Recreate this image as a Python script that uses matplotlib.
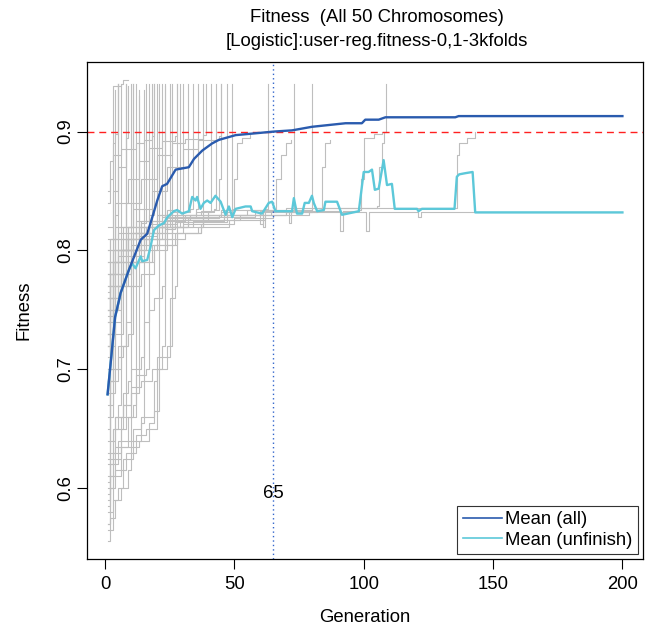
import matplotlib
matplotlib.use("Agg")
import matplotlib.pyplot as plt
from matplotlib.lines import Line2D

plt.rcParams['font.family'] = ['Liberation Sans', 'DejaVu Sans']

# (generation, fitness) traces of single chromosomes
# (value holds from that generation on, until the next point)
low_start = [
    [(1, 0.556), (2, 0.575), (4, 0.59), (6, 0.60), (9, 0.615), (10, 0.94)],
    [(1, 0.565), (3, 0.59), (5, 0.60), (7, 0.625), (11, 0.64), (14, 0.655), (15, 0.935)],
    [(1, 0.57), (2, 0.60), (4, 0.615), (8, 0.63), (12, 0.645), (16, 0.65), (20, 0.665), (21, 0.94)],
    [(1, 0.58), (3, 0.61), (6, 0.635), (13, 0.64), (17, 0.655), (19, 0.69), (20, 0.71), (22, 0.72), (23, 0.938)],
    [(1, 0.585), (2, 0.62), (5, 0.64), (9, 0.66), (12, 0.68), (13, 0.93)],
    [(1, 0.59), (2, 0.63), (4, 0.66), (7, 0.67), (8, 0.94)],
    [(1, 0.60), (3, 0.625), (6, 0.66), (8, 0.67), (10, 0.685), (14, 0.69), (18, 0.70), (22, 0.71), (25, 0.72), (26, 0.94)],
    [(1, 0.605), (2, 0.64), (3, 0.65), (5, 0.67), (6, 0.94)],
    [(1, 0.61), (4, 0.635), (9, 0.64), (11, 0.65), (14, 0.66), (19, 0.665), (20, 0.70), (24, 0.72), (25, 0.76), (27, 0.77), (28, 0.94)],
    [(1, 0.62), (2, 0.66), (3, 0.68), (4, 0.935)],
    [(1, 0.625), (3, 0.65), (7, 0.67), (10, 0.68), (12, 0.695), (16, 0.70), (17, 0.94)],
    [(1, 0.64), (2, 0.69), (3, 0.70), (6, 0.72), (9, 0.73), (11, 0.94)],
    [(1, 0.65), (2, 0.70), (5, 0.72), (8, 0.74), (10, 0.77), (14, 0.78), (19, 0.80), (20, 0.94)],
    [(1, 0.63), (2, 0.67), (3, 0.69), (5, 0.71), (7, 0.72), (8, 0.94)],
    [(1, 0.57), (2, 0.61), (3, 0.63), (6, 0.65), (8, 0.66), (11, 0.67), (12, 0.94)],
    [(1, 0.595), (2, 0.62), (3, 0.64), (4, 0.66), (7, 0.68), (9, 0.69), (10, 0.70), (14, 0.71), (15, 0.74), (17, 0.75), (19, 0.76), (22, 0.77), (23, 0.94)],
]

mid_start = [
    [(1, 0.66), (2, 0.72), (4, 0.75), (5, 0.94)],
    [(1, 0.67), (2, 0.74), (3, 0.76), (6, 0.78), (9, 0.79), (12, 0.80), (13, 0.935)],
    [(1, 0.69), (3, 0.75), (5, 0.77), (8, 0.79), (13, 0.80), (16, 0.81), (18, 0.94)],
    [(1, 0.70), (2, 0.76), (4, 0.78), (7, 0.80), (11, 0.81), (14, 0.82), (20, 0.825), (22, 0.94)],
    [(1, 0.71), (2, 0.77), (3, 0.79), (5, 0.80), (9, 0.81), (14, 0.815), (19, 0.82), (24, 0.825), (25, 0.94)],
    [(1, 0.72), (2, 0.75), (4, 0.76), (6, 0.78), (10, 0.80), (14, 0.81), (18, 0.815), (26, 0.82), (29, 0.825), (30, 0.94)],
    [(1, 0.73), (2, 0.78), (4, 0.80), (8, 0.81), (12, 0.82), (18, 0.825), (23, 0.83), (28, 0.832), (33, 0.835), (34, 0.94)],
    [(1, 0.74), (2, 0.78), (3, 0.80), (7, 0.81), (9, 0.82), (11, 0.94)],
    [(1, 0.745), (3, 0.79), (6, 0.80), (10, 0.815), (15, 0.82), (22, 0.825), (27, 0.83), (35, 0.835), (36, 0.94)],
    [(1, 0.75), (2, 0.78), (5, 0.80), (9, 0.815), (13, 0.82), (17, 0.83), (19, 0.94)],
    [(1, 0.76), (3, 0.79), (6, 0.81), (12, 0.815), (19, 0.82), (25, 0.825), (31, 0.83), (40, 0.832), (41, 0.94)],
    [(1, 0.765), (2, 0.80), (4, 0.81), (8, 0.82), (14, 0.823), (16, 0.94)],
    [(1, 0.77), (2, 0.79), (6, 0.80), (11, 0.815), (17, 0.82), (22, 0.828), (28, 0.83), (37, 0.833), (42, 0.835), (43, 0.94)],
    [(1, 0.78), (2, 0.81), (5, 0.815), (9, 0.82), (14, 0.825), (20, 0.83), (24, 0.834), (29, 0.94)],
    [(1, 0.79), (3, 0.81), (7, 0.82), (12, 0.825), (21, 0.83), (26, 0.832), (32, 0.94)],
    [(1, 0.80), (2, 0.81), (4, 0.83), (5, 0.94)],
    [(1, 0.76), (2, 0.78), (3, 0.938), (6, 0.94), (7, 0.943), (9, 0.943)],
    [(1, 0.68), (2, 0.73), (3, 0.75), (5, 0.77), (6, 0.78), (10, 0.79), (15, 0.80), (24, 0.81), (31, 0.815), (37, 0.82), (38, 0.94)],
    [(1, 0.72), (2, 0.76), (5, 0.79), (9, 0.80), (16, 0.81), (23, 0.818), (27, 0.824), (47, 0.94)],
    [(1, 0.73), (3, 0.77), (7, 0.79), (14, 0.805), (21, 0.815), (30, 0.822), (38, 0.828), (49, 0.94)],
]

near_goal = [
    [(1, 0.85), (2, 0.875), (3, 0.89), (4, 0.898), (5, 0.94)],
    [(1, 0.84), (2, 0.86), (3, 0.88), (6, 0.885), (8, 0.895), (9, 0.938)],
    [(1, 0.82), (3, 0.85), (5, 0.87), (8, 0.885), (12, 0.89), (15, 0.893), (18, 0.896), (19, 0.94)],
    [(1, 0.81), (4, 0.84), (9, 0.86), (13, 0.875), (17, 0.886), (22, 0.892), (27, 0.896), (28, 0.94)],
    [(1, 0.80), (4, 0.82), (8, 0.84), (14, 0.86), (20, 0.88), (26, 0.89), (31, 0.894), (38, 0.897), (39, 0.94)],
    [(1, 0.79), (5, 0.82), (11, 0.835), (18, 0.85), (24, 0.87), (30, 0.885), (36, 0.893), (44, 0.896), (45, 0.94)],
]

late_finish = [
    [(1, 0.72), (3, 0.77), (6, 0.79), (10, 0.805), (15, 0.815), (21, 0.822), (27, 0.828), (35, 0.832), (42, 0.834), (44, 0.86), (45, 0.94)],
    [(1, 0.74), (2, 0.77), (5, 0.795), (9, 0.81), (16, 0.82), (24, 0.826), (33, 0.83), (45, 0.832), (49, 0.835), (50, 0.86), (51, 0.89), (53, 0.895), (56, 0.897)],
    [(1, 0.76), (4, 0.79), (8, 0.80), (13, 0.812), (20, 0.82), (30, 0.826), (40, 0.83), (50, 0.83), (58, 0.832), (60, 0.822), (61, 0.832), (62, 0.835), (63, 0.94)],
    [(1, 0.70), (3, 0.75), (6, 0.78), (10, 0.80), (17, 0.81), (26, 0.82), (38, 0.826), (52, 0.83), (64, 0.832), (66, 0.86), (68, 0.88), (70, 0.89), (72, 0.893)],
    [(1, 0.68), (3, 0.73), (7, 0.77), (12, 0.79), (19, 0.805), (28, 0.815), (36, 0.82), (48, 0.826), (62, 0.83), (70, 0.832), (71, 0.823), (72, 0.832), (73, 0.94)],
    [(1, 0.69), (3, 0.74), (6, 0.77), (11, 0.79), (18, 0.805), (27, 0.815), (37, 0.822), (50, 0.827), (65, 0.83), (79, 0.832), (80, 0.94)],
    [(1, 0.73), (4, 0.77), (9, 0.795), (15, 0.81), (24, 0.82), (34, 0.825), (46, 0.828), (58, 0.83), (70, 0.832), (82, 0.834), (84, 0.87), (85, 0.89), (87, 0.893)],
    [(1, 0.75), (3, 0.78), (7, 0.80), (13, 0.815), (22, 0.82), (32, 0.827), (44, 0.83), (60, 0.833), (90, 0.833), (91, 0.816), (92, 0.833), (98, 0.834), (99, 0.86), (100, 0.895), (104, 0.898), (107, 0.90)],
    [(1, 0.77), (3, 0.80), (8, 0.81), (14, 0.82), (24, 0.827), (38, 0.83), (55, 0.834), (80, 0.836), (105, 0.837), (106, 0.87), (107, 0.89), (108, 0.90), (108.5, 0.94)],
    [(1, 0.78), (4, 0.80), (9, 0.815), (17, 0.822), (28, 0.828), (45, 0.834), (70, 0.836), (100, 0.836), (120, 0.836), (135, 0.836), (136, 0.88), (137, 0.89), (140, 0.895), (143, 0.90)],
]

unfinished = [
    [(1, 0.75), (3, 0.78), (8, 0.80), (14, 0.81), (22, 0.82), (32, 0.826), (46, 0.83), (60, 0.832), (61, 0.82), (62, 0.832),
     (100, 0.832), (101, 0.816), (102, 0.832), (120, 0.832), (121, 0.828), (122, 0.832), (200, 0.832)],
]

# mean over all chromosomes
mean_all_gen = [1, 2.8, 3.9, 5.4, 6, 9.3, 13.8, 16.3, 17.6, 20.2, 22.1, 24, 27.3, 32.4, 34.4, 37.6, 41.4,
                44, 50.5, 58, 65.3, 72.3, 80, 93, 99.3, 100.6, 105.8, 108.4, 135.4, 136.7, 200]
mean_all_fit = [0.679, 0.719, 0.744, 0.758, 0.764, 0.784, 0.809, 0.814, 0.823, 0.842, 0.854, 0.856, 0.868,
                0.870, 0.877, 0.884, 0.890, 0.893, 0.897, 0.8985, 0.900, 0.901, 0.904, 0.907, 0.907, 0.910,
                0.910, 0.912, 0.912, 0.913, 0.913]

# mean over the chromosomes not yet finished
mean_unf_gen = [1, 2.8, 3.9, 5.4, 6, 9.3, 10.5, 11.8, 13.8, 14.4, 16.3, 17.6, 18.9, 20.8, 22.8, 24.1, 26.6,
                27.9, 29.8, 32.4, 33.7, 35.0, 35.6, 36.9, 38.2, 39.5, 40.8, 42.7, 44.7, 46.6, 47.9, 49.2,
                50.5, 54.3, 56.3, 56.9, 60.7, 63.3, 64.6, 65.9, 72.3, 73.0, 74.2, 76.2, 77.2, 78.8, 80.0,
                80.7, 82.0, 84.6, 85.2, 89.7, 91.6, 98.1, 100, 101.9, 103.2, 104.3, 105.8, 107.7, 109.0,
                110.9, 112.0, 120.6, 121.2, 122.5, 135.1, 136.0, 136.9, 139.3, 142.1, 143.1, 200]
mean_unf_fit = [0.679, 0.719, 0.744, 0.758, 0.764, 0.784, 0.789, 0.785, 0.795, 0.791, 0.792, 0.803, 0.817,
                0.821, 0.823, 0.828, 0.833, 0.834, 0.831, 0.833, 0.845, 0.842, 0.845, 0.835, 0.840, 0.842,
                0.840, 0.846, 0.841, 0.830, 0.837, 0.828, 0.835, 0.837, 0.837, 0.833, 0.831, 0.840, 0.841,
                0.833, 0.833, 0.844, 0.831, 0.831, 0.840, 0.840, 0.846, 0.840, 0.833, 0.834, 0.841, 0.841,
                0.830, 0.833, 0.866, 0.866, 0.868, 0.851, 0.852, 0.876, 0.855, 0.856, 0.835, 0.835, 0.833,
                0.835, 0.835, 0.862, 0.864, 0.865, 0.866, 0.832, 0.832]

goal_fitness = 0.9
goal_generation = 65

FS = 13.3
fig = plt.figure(figsize=(6.46, 6.29), dpi=100)
ax = fig.add_axes([87/646, 1-559/629, (643-87)/646, (559-62)/629])

for trace in low_start + mid_start + near_goal + late_finish + unfinished:
    g = [p[0] for p in trace]
    f = [p[1] for p in trace]
    ax.plot(g, f, color='#BEBEBE', lw=0.8, drawstyle='steps-post', zorder=1)

ax.axhline(goal_fitness, color='#FF2020', lw=1.0, ls=(0, (5, 3.5)), zorder=2)
ax.axvline(goal_generation, color='#3366CC', lw=1.0, ls=(0, (1, 2.2)), zorder=2)
ax.text(goal_generation, 0.596, str(goal_generation), ha='center', va='center', fontsize=FS, zorder=3)

ax.plot(mean_unf_gen, mean_unf_fit, color='#5CC8D9', lw=1.7, zorder=3)
ax.plot(mean_all_gen, mean_all_fit, color='#2A5BAE', lw=1.7, zorder=4)

ax.set_xlim(-6.96, 207.96)
ax.set_ylim(0.5405, 0.9585)
ax.set_xticks([0, 50, 100, 150, 200])
ax.set_yticks([0.6, 0.7, 0.8, 0.9])
ax.set_yticklabels(['0.6', '0.7', '0.8', '0.9'], rotation=90, va='center')
ax.tick_params(direction='out', length=7, width=0.8, labelsize=FS)
ax.tick_params(axis='x', pad=5)
ax.tick_params(axis='y', pad=2)
for s in ax.spines.values():
    s.set_linewidth(0.9)

ax.set_xlabel('Generation', fontsize=FS, labelpad=12)
ax.set_ylabel('Fitness', fontsize=FS, labelpad=18)

fig.text(377/646, 1-18/629, 'Fitness  (All 50 Chromosomes)', ha='center', va='center', fontsize=FS)
fig.text(377/646, 1-42/629, '[Logistic]:user-reg.fitness-0,1-3kfolds', ha='center', va='center', fontsize=FS)

handles = [Line2D([], [], color='#2A5BAE', lw=1.2), Line2D([], [], color='#5CC8D9', lw=1.2)]
leg = ax.legend(handles, ['Mean (all)', 'Mean (unfinish)'], loc='lower right', fontsize=FS,
                frameon=True, fancybox=False, framealpha=1, edgecolor='#333333',
                handlelength=2.1, handletextpad=0.2, borderpad=0.3, labelspacing=0.2,
                borderaxespad=0.25)
leg.get_frame().set_linewidth(0.8)

fig.savefig('out.png', dpi=100)
